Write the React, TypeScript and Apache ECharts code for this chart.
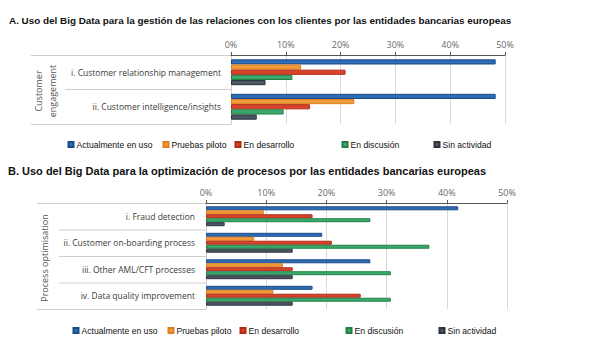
import React, { useEffect, useRef } from 'react';
import * as echarts from 'echarts';

const seriesNames = ['Actualmente en uso', 'Pruebas piloto', 'En desarrollo', 'En discusión', 'Sin actividad'];
const colors = ['#2E6DB4', '#F59B3C', '#D8432B', '#3BAA6C', '#4B5663'];
const borderColors = ['#1A4A8A', '#DD7E1E', '#AE2A15', '#1F7F47', '#2C343D'];

const titleA = 'A. Uso del Big Data para la gestión de las relaciones con los clientes por las entidades bancarias europeas';
const titleB = 'B. Uso del Big Data para la optimización de procesos por las entidades bancarias europeas';
const groupA = 'Customer\nengagement';
const groupB = 'Process optimisation';

const catsA = ['i. Customer relationship management', 'ii. Customer intelligence/insights'];
const actualA = [48.3, 48.3];
const pilotoA = [12.8, 22.5];
const desarrolloA = [20.9, 14.4];
const discusionA = [11.2, 9.6];
const sinA = [6.3, 4.7];

const catsB = ['i. Fraud detection', 'ii. Customer on-boarding process', 'iii. Other AML/CFT processes', 'iv. Data quality improvement'];
const actualB = [41.9, 19.3, 27.3, 17.7];
const pilotoB = [9.6, 8.0, 12.8, 11.2];
const desarrolloB = [17.7, 20.9, 14.4, 25.7];
const discusionB = [27.3, 37.1, 30.7, 30.7];
const sinB = [3.1, 14.4, 14.4, 14.4];

const xMin = 0;
const xMax = 50;
const xStep = 10;

const legendXA = [67.5, 162.5, 234.5, 341.5, 433.5];
const legendXB = [72.5, 167.5, 239.5, 345.5, 438.5];

export default function App() {
  const ref = useRef<HTMLDivElement>(null);
  useEffect(() => {
    document.body.style.margin = '0';
    if (!ref.current) return;
    const chart = echarts.init(ref.current, null, { renderer: 'svg' });
    const dataA = [actualA, pilotoA, desarrolloA, discusionA, sinA];
    const dataB = [actualB, pilotoB, desarrolloB, discusionB, sinB];
    const catFont = { fontFamily: 'Open Sans', fontSize: 8.5, color: '#3a3a3a' };
    const xAxisCommon = (gridIndex: number) => ({
      type: 'value',
      gridIndex,
      position: 'top',
      min: xMin,
      max: xMax,
      interval: xStep,
      axisLine: { show: true, lineStyle: { color: '#555', width: 1 } },
      axisTick: { show: true, length: 3, lineStyle: { color: '#555' } },
      axisLabel: { formatter: '{value}%', fontFamily: 'Open Sans', fontSize: 9, color: '#6a6a6a', margin: 6 },
      splitLine: { show: true, lineStyle: { color: '#d9d9d9', width: 1 } },
    });
    const series: any[] = [];
    dataA.forEach((d, i) => {
      series.push({
        type: 'bar', name: seriesNames[i], xAxisIndex: 0, yAxisIndex: 0, data: d,
        barGap: '0%', barCategoryGap: '25%',
        itemStyle: { color: colors[i], borderColor: borderColors[i], borderWidth: 1 },
      });
    });
    dataB.forEach((d, i) => {
      series.push({
        type: 'bar', name: seriesNames[i], xAxisIndex: 1, yAxisIndex: 1, data: d,
        barGap: '0%', barCategoryGap: '25%',
        itemStyle: { color: colors[i], borderColor: borderColors[i], borderWidth: 1 },
      });
    });
    const legendFont = { fontFamily: 'Liberation Sans, Arial', fontSize: 8.6, color: '#111', padding: [0, 0, 0, -2] };
    const legends: any[] = [];
    seriesNames.forEach((n, i) => {
      legends.push({ left: legendXA[i], top: 140, padding: 0, data: [n], icon: 'rect', itemWidth: 5, itemHeight: 5, itemGap: 2, textStyle: legendFont, selectedMode: false });
      legends.push({ left: legendXB[i], top: 326, padding: 0, data: [n], icon: 'rect', itemWidth: 5, itemHeight: 5, itemGap: 2, textStyle: legendFont, selectedMode: false });
    });
    const lineStyle = { stroke: '#cfcfcf', lineWidth: 1 };
    chart.setOption({
      animation: false,
      backgroundColor: '#fff',
      title: [
        { text: titleA, left: 9, top: 15, padding: 0, textStyle: { fontFamily: 'Liberation Sans', fontWeight: 'bold', fontSize: 9.9, color: '#111' } },
        { text: titleB, left: 8, top: 165, padding: 0, textStyle: { fontFamily: 'Liberation Sans', fontWeight: 'bold', fontSize: 11, color: '#111' } },
      ],
      legend: legends,
      grid: [
        { left: 231, right: 88, top: 55, height: 69 },
        { left: 206, right: 86, top: 203, height: 106 },
      ],
      xAxis: [xAxisCommon(0), xAxisCommon(1)],
      yAxis: [
        {
          type: 'category', gridIndex: 0, data: catsA, inverse: true,
          axisLine: { show: true, lineStyle: { color: '#cfcfcf' } }, axisTick: { show: false },
          axisLabel: { ...catFont, margin: 10 },
        },
        {
          type: 'category', gridIndex: 1, data: catsB, inverse: true,
          axisLine: { show: true, lineStyle: { color: '#cfcfcf' } }, axisTick: { show: false },
          axisLabel: { ...catFont, margin: 11 },
        },
      ],
      series,
      graphic: [
        { type: 'line', shape: { x1: 31, y1: 55.5, x2: 231, y2: 55.5 }, style: lineStyle },
        { type: 'line', shape: { x1: 65, y1: 89.5, x2: 231, y2: 89.5 }, style: lineStyle },
        { type: 'line', shape: { x1: 31, y1: 124.5, x2: 231, y2: 124.5 }, style: lineStyle },
        { type: 'line', shape: { x1: 37, y1: 203.5, x2: 206, y2: 203.5 }, style: lineStyle },
        { type: 'line', shape: { x1: 59, y1: 230, x2: 206, y2: 230 }, style: lineStyle },
        { type: 'line', shape: { x1: 59, y1: 256.5, x2: 206, y2: 256.5 }, style: lineStyle },
        { type: 'line', shape: { x1: 59, y1: 283, x2: 206, y2: 283 }, style: lineStyle },
        { type: 'line', shape: { x1: 37, y1: 309.5, x2: 206, y2: 309.5 }, style: lineStyle },
        {
          type: 'text', x: 45, y: 91, rotation: Math.PI / 2,
          style: { text: groupA, fontFamily: 'Open Sans', fontSize: 9, fill: '#555', textAlign: 'center', textVerticalAlign: 'middle', lineHeight: 14 },
        },
        {
          type: 'text', x: 44, y: 258, rotation: Math.PI / 2,
          style: { text: groupB, fontFamily: 'Open Sans', fontSize: 9, fill: '#555', textAlign: 'center', textVerticalAlign: 'middle' },
        },
      ],
    });
    return () => chart.dispose();
  }, []);
  return <div ref={ref} style={{ width: 593, height: 352 }} />;
}
